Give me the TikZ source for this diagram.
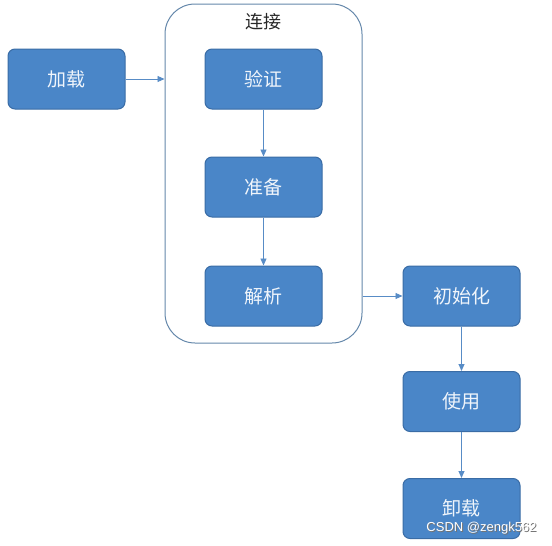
\documentclass[tikz,border=0pt]{standalone}
\usepackage{fontspec}
\setmainfont{Liberation Sans}
\newfontfamily\cjk{Noto Sans CJK SC}
\usetikzlibrary{arrows.meta}
\definecolor{boxfill}{RGB}{74,134,200}
\definecolor{boxline}{RGB}{58,108,165}
\definecolor{arrowc}{RGB}{88,140,198}
\definecolor{groupline}{RGB}{100,135,170}
\tikzset{
  stepbox/.style={draw=boxline, line width=1pt, fill=boxfill, rounded corners=7pt,
    minimum width=117pt, minimum height=60pt, inner sep=0pt,
    text=white!92!boxfill, font=\cjk\fontsize{19}{22}\selectfont},
  flow/.style={draw=arrowc, line width=0.9pt, -{Triangle[length=7pt,width=6pt]}},
  wmark/.style={font=\fontsize{13}{15}\selectfont, anchor=east},
}
\begin{document}
\begin{tikzpicture}[x=1pt,y=-1pt]
\useasboundingbox (0,0) rectangle (552,546);
\node[draw=groupline, line width=1pt, rounded corners=30pt, minimum width=197pt, minimum height=339pt, inner sep=0pt] (group) at (263.5,173.5) {};
\node[font=\cjk\fontsize{18}{20}\selectfont, text=black!85] (glabel) at (263,22) {连接};
\node[stepbox] (load) at (66.5,79) {加载};
\node[stepbox] (verify) at (263.5,79) {验证};
\node[stepbox] (prepare) at (263.5,187) {准备};
\node[stepbox] (resolve) at (263.5,296) {解析};
\node[stepbox] (init) at (461.5,296) {初始化};
\node[stepbox] (use) at (461.5,401.5) {使用};
\node[stepbox] (unload) at (461.5,508.5) {卸载};
\draw[flow] (load.east) -- (load.east -| group.west);
\draw[flow] (verify) -- (prepare);
\draw[flow] (prepare) -- (resolve);
\draw[flow] (init.west -| group.east) -- (init.west);
\draw[flow] (init) -- (use);
\draw[flow] (use) -- (unload);
\node[wmark, text=black!55] (wmshadow) at (541,529) {CSDN @zengk562};
\node[wmark, text=white] (wm) at (540,528) {CSDN @zengk562};
\end{tikzpicture}
\end{document}
